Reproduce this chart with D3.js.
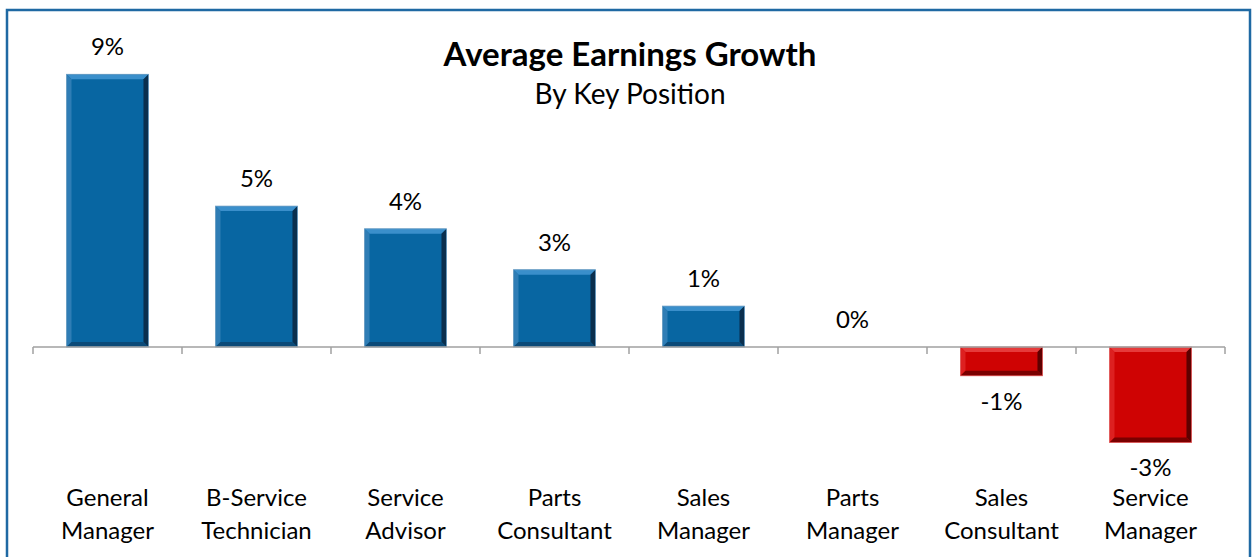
<!DOCTYPE html>
<html><head><meta charset="utf-8">
<script src="https://cdn.jsdelivr.net/npm/d3@7"></script>
<style>body{margin:0;background:#fff;}svg{display:block;}text{font-family:Lato,"Liberation Sans",sans-serif;fill:#000;}</style>
</head><body>
<svg id="c" width="1255" height="557"></svg>
<script>
const categories = [["General","Manager"],["B-Service","Technician"],["Service","Advisor"],["Parts","Consultant"],["Sales","Manager"],["Parts","Manager"],["Sales","Consultant"],["Service","Manager"]];
const values = [9.0, 4.65, 3.9, 2.55, 1.35, 0, -0.95, -3.15];
const title = "Average Earnings Growth";
const subtitle = "By Key Position";

const svg = d3.select("#c");
// frame
svg.append("rect").attr("x",7).attr("y",10).attr("width",1243).attr("height",560)
  .attr("fill","none").attr("stroke","#1f69a3").attr("stroke-width",2.5);

const x = d3.scaleBand().domain(d3.range(categories.length)).range([33,1225]).paddingInner(0.45).paddingOuter(0.225);
const y = d3.scaleLinear().domain([-4,10]).range([347+4*30.3, 347-10*30.3]);

const g = svg.append("g");
const bw = x.bandwidth();
const bev = 5;
values.forEach((v,i)=>{
  const x0 = x(i), x1 = x(i)+bw;
  const yt = Math.min(y(v),y(0)), yb = Math.max(y(v),y(0));
  if (yb-yt < 0.5) return;
  const pos = v>=0;
  const main = pos ? "#0866a2" : "#cf0303";
  const top = pos ? "#3a8fcb" : "#e63a3a";
  const left = pos ? "#2f7db5" : "#dd2020";
  const right = pos ? "#0a2f4e" : "#5e0000";
  const bot = pos ? "#0b4a78" : "#7a0000";
  const b = Math.min(bev,(yb-yt)/2);
  g.append("rect").attr("x",x0).attr("y",yt).attr("width",bw).attr("height",yb-yt).attr("fill",main);
  const poly = (pts,c)=>g.append("polygon").attr("points",pts.map(p=>p.join(",")).join(" ")).attr("fill",c);
  poly([[x0,yt],[x1,yt],[x1-b,yt+b],[x0+b,yt+b]],top);
  poly([[x0,yt],[x0+b,yt+b],[x0+b,yb-b],[x0,yb]],left);
  poly([[x1,yt],[x1,yb],[x1-b,yb-b],[x1-b,yt+b]],right);
  poly([[x0,yb],[x0+b,yb-b],[x1-b,yb-b],[x1,yb]],bot);
  g.append("rect").attr("x",x0).attr("y",yt).attr("width",bw).attr("height",yb-yt).attr("fill","none")
   .attr("stroke",pos?"#6f9fc4":"#e06060").attr("stroke-width",0.8);
});

// axis line and ticks
const ax = svg.append("g");
ax.append("line").attr("x1",33).attr("x2",1225).attr("y1",y(0)).attr("y2",y(0)).attr("stroke","#a0a0a0").attr("stroke-width",1.5);
d3.range(categories.length+1).forEach(k=>{
  const xx = 33 + k*x.step();
  ax.append("line").attr("x1",xx).attr("x2",xx).attr("y1",y(0)).attr("y2",y(0)+7).attr("stroke","#a0a0a0").attr("stroke-width",1.5);
});

// value labels
values.forEach((v,i)=>{
  const cx = x(i)+bw/2;
  const ly = v>0 ? y(v)-19 : (v<0 ? y(v)+34 : y(0)-19);
  svg.append("text").attr("x",cx).attr("y",ly).attr("text-anchor","middle").attr("font-size",24)
    .text(Math.round(v)+"%");
});

// category labels
categories.forEach((c,i)=>{
  const cx = x(i)+bw/2;
  c.forEach((line,j)=>{
    svg.append("text").attr("x",cx).attr("y",506+j*33).attr("text-anchor","middle").attr("font-size",24).text(line);
  });
});

svg.append("text").attr("x",630).attr("y",66).attr("text-anchor","middle").attr("font-size",33).attr("font-weight","bold").text(title);
svg.append("text").attr("x",630).attr("y",104).attr("text-anchor","middle").attr("font-size",28).text(subtitle);
</script>
</body></html>
